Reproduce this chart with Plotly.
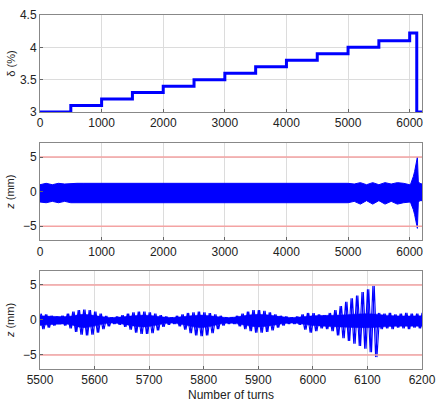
import plotly.graph_objects as go

# ---------------- data ----------------
# panel 1: energy deviation steps (turn, value)
step_turns = [0, 500, 1000, 1500, 2000, 2500, 3000, 3500, 4000, 4500, 5000, 5500, 6000, 6115, 6200]
step_vals  = [3.0, 3.1, 3.2, 3.3, 3.4, 3.5, 3.6, 3.7, 3.8, 3.9, 4.0, 4.1, 4.22, 3.0, 3.0]

# panel 2: envelope of z over the full run
env_turns = list(range(0, 6000, 100)) + [6000, 6020, 6040, 6060, 6080, 6100, 6115, 6125, 6140, 6160, 6200]
env_up = [1.0, 1.2, 1.0, 1.2, 1.1, 1.2, 1.2, 1.2, 1.2, 1.2,
          1.2, 1.2, 1.2, 1.2, 1.2, 1.3, 1.3, 1.3, 1.3, 1.3,
          1.3, 1.3, 1.3, 1.3, 1.3, 1.3, 1.3, 1.3, 1.3, 1.3,
          1.3, 1.3, 1.3, 1.3, 1.3, 1.3, 1.3, 1.3, 1.3, 1.3,
          1.3, 1.3, 1.3, 1.3, 1.3, 1.3, 1.3, 1.3, 1.3, 1.2,
          1.2, 1.1, 1.3, 1.0, 1.3, 1.0, 1.3, 1.1, 1.3, 1.2,
          1.0, 1.2, 1.6, 2.2, 2.9, 3.8, 4.6, 5.0, 1.5, 1.2, 1.1]
env_lo = [-1.5, -1.6, -1.4, -1.6, -1.4, -1.6, -1.6, -1.6, -1.6, -1.6,
          -1.6, -1.6, -1.6, -1.6, -1.6, -1.7, -1.7, -1.7, -1.7, -1.7,
          -1.7, -1.7, -1.7, -1.7, -1.7, -1.7, -1.7, -1.7, -1.7, -1.7,
          -1.7, -1.7, -1.7, -1.7, -1.7, -1.7, -1.7, -1.7, -1.7, -1.7,
          -1.7, -1.7, -1.7, -1.7, -1.7, -1.7, -1.7, -1.7, -1.7, -1.6,
          -1.6, -1.4, -1.8, -1.3, -1.8, -1.3, -1.8, -1.4, -1.8, -1.6,
          -1.5, -1.7, -2.1, -2.6, -3.3, -4.0, -4.7, -5.3, -1.6, -1.3, -1.3]

# panel 3: zoom 5500-6200, positive / negative swing every 10 turns
zoom_turns = list(range(5500, 6201, 10))
zoom_up = [0.9, 0.8, 0.6, 0.5, 0.6, 0.9, 1.2, 1.4, 1.5, 1.4,
           1.2, 0.9, 0.6, 0.4, 0.5, 0.7, 0.9, 1.1, 1.2, 1.2,
           1.1, 0.9, 0.7, 0.5, 0.4, 0.6, 0.8, 1.0, 1.1, 1.2,
           1.1, 1.0, 0.8, 0.6, 0.4, 0.4, 0.6, 0.9, 1.2, 1.4,
           1.4, 1.3, 1.1, 0.8, 0.6, 0.5, 0.4, 0.5, 0.8, 1.0,
           1.0, 0.8, 0.7, 1.0, 1.4, 2.0, 2.6, 3.1, 3.5, 4.0,
           4.4, 4.9, 1.0, 0.9, 1.0, 0.8, 0.9, 1.0, 0.9, 0.9, 1.0]
zoom_lo = [-1.3, -1.1, -0.8, -0.6, -0.8, -1.2, -1.7, -2.1, -2.2, -2.1,
           -1.8, -1.3, -0.9, -0.6, -0.7, -1.0, -1.4, -1.8, -2.0, -2.0,
           -1.9, -1.5, -1.0, -0.7, -0.6, -0.9, -1.4, -1.9, -2.2, -2.3,
           -2.2, -1.9, -1.3, -0.8, -0.6, -0.6, -0.9, -1.3, -1.6, -1.8,
           -1.8, -1.7, -1.5, -1.1, -0.8, -0.6, -0.6, -0.7, -1.4, -1.8,
           -1.6, -1.2, -1.3, -1.6, -2.2, -2.6, -3.0, -3.4, -3.7, -4.1,
           -4.6, -5.3, -1.3, -1.2, -1.3, -1.1, -1.2, -1.3, -1.1, -1.2, -1.4]

# panel 3: dense core of the oscillation band
core_turns = [5500, 5550, 5580, 5630, 5690, 5740, 5795, 5845, 5900, 5960, 6000, 6050, 6100, 6150, 6200]
core_up = [0.6, 0.5, 0.8, 0.35, 0.7, 0.35, 0.7, 0.35, 0.8, 0.35, 0.6, 0.7, 0.9, 0.6, 0.6]
core_lo = [-0.8, -0.6, -1.1, -0.45, -1.0, -0.45, -1.1, -0.45, -1.0, -0.45, -0.8, -1.0, -1.1, -0.9, -0.9]

limit = 5.0

# ---------------- figure ----------------
BLUE = "#0000ff"
RED = "#f4a3a3"
GRID = "#dcdcdc"
FONT = dict(family="Liberation Sans, Arial, sans-serif", size=12, color="#222")

fig = go.Figure()

# panel 1
fig.add_trace(go.Scatter(x=step_turns, y=step_vals, mode="lines", line_shape="hv",
                         line=dict(color=BLUE, width=3), xaxis="x", yaxis="y"))

# panel 2: band
fig.add_trace(go.Scatter(x=env_turns, y=env_up, mode="lines", line=dict(color=BLUE, width=1),
                         xaxis="x2", yaxis="y2"))
fig.add_trace(go.Scatter(x=env_turns, y=env_lo, mode="lines", line=dict(color=BLUE, width=1),
                         fill="tonexty", fillcolor=BLUE, xaxis="x2", yaxis="y2"))

# panel 3: core band
fig.add_trace(go.Scatter(x=core_turns, y=core_up, mode="lines", line=dict(color=BLUE, width=0.5),
                         line_shape="spline", xaxis="x3", yaxis="y3"))
fig.add_trace(go.Scatter(x=core_turns, y=core_lo, mode="lines", line=dict(color=BLUE, width=0.5),
                         line_shape="spline", fill="tonexty", fillcolor=BLUE, xaxis="x3", yaxis="y3"))

# panel 3: oscillation swings (two interleaved passes for density)
for off in (0, 2.5):
    zx, zy = [], []
    for t, u, l in zip(zoom_turns, zoom_up, zoom_lo):
        zx += [t + off, t + off + 5]
        zy += [u, l]
    fig.add_trace(go.Scatter(x=zx, y=zy, mode="lines",
                             line=dict(color=BLUE, width=1.1, simplify=False),
                             xaxis="x3", yaxis="y3"))

# red limit lines
for xa, ya, xr in [("x2", "y2", [0, 6200]), ("x3", "y3", [5500, 6200])]:
    for v in (limit, -limit):
        fig.add_trace(go.Scatter(x=xr, y=[v, v], mode="lines", line=dict(color=RED, width=1.5),
                                 xaxis=xa, yaxis=ya))

ax_common = dict(showline=True, linecolor="#888", linewidth=1, mirror=True,
                 showgrid=True, gridcolor=GRID, gridwidth=1, zeroline=False,
                 ticks="inside", ticklen=3, tickcolor="#666", tickfont=FONT,
                 automargin=False)

TFONT = dict(family=FONT["family"], size=11, color="#222")

fig.update_layout(
    width=436, height=412,
    margin=dict(l=40, r=14, t=15, b=43),
    paper_bgcolor="white", plot_bgcolor="white",
    showlegend=False,
    xaxis=dict(domain=[0, 1], range=[0, 6200], tickvals=[0, 1000, 2000, 3000, 4000, 5000, 6000],
               anchor="y", **ax_common),
    yaxis=dict(domain=[0.726, 1.0], range=[3, 4.5], tickvals=[3, 3.5, 4, 4.5], anchor="x",
               title=dict(text="δ (%)", font=TFONT, standoff=2), **ax_common),
    xaxis2=dict(domain=[0, 1], range=[0, 6200], tickvals=[0, 1000, 2000, 3000, 4000, 5000, 6000],
                anchor="y2", **ax_common),
    yaxis2=dict(domain=[0.364, 0.638], range=[-7, 7], tickvals=[-5, 0, 5], anchor="x2",
                title=dict(text="<i>z</i> (mm)", font=TFONT, standoff=6), **ax_common),
    xaxis3=dict(domain=[0, 1], range=[5500, 6200], tickvals=list(range(5500, 6201, 100)),
                anchor="y3",
                title=dict(text="Number of turns", font=dict(family=FONT["family"], size=12, color="#222"),
                           standoff=4), **ax_common),
    yaxis3=dict(domain=[0, 0.277], range=[-7, 7], tickvals=[-5, 0, 5], anchor="x3",
                title=dict(text="<i>z</i> (mm)", font=TFONT, standoff=6), **ax_common),
)

fig.write_html("out.html")
